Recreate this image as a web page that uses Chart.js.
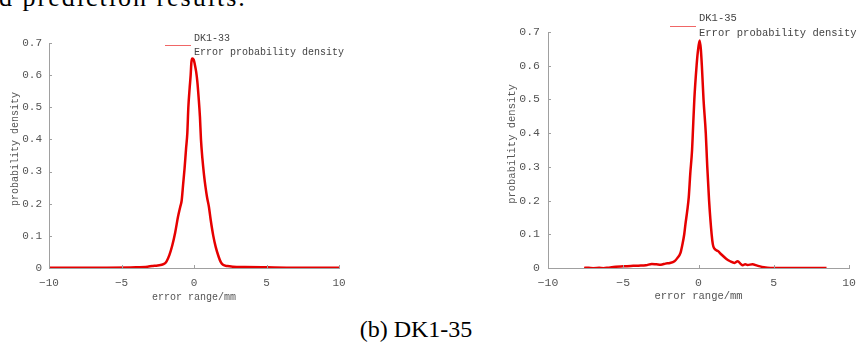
<!DOCTYPE html>
<html>
<head>
<meta charset="utf-8">
<script src="https://cdn.jsdelivr.net/npm/chart.js@4.4.1/dist/chart.umd.min.js"></script>
<style>
  html, body { margin: 0; padding: 0; background: #fff; }
  body { width: 864px; height: 352px; position: relative; overflow: hidden; }
  .box { position: absolute; top: 0; width: 432px; height: 310px; }
  #leftBox { left: 0; }
  #rightBox { left: 432px; }
  .para { position: absolute; left: -1px; top: -15px; font: 26px "Liberation Serif"; line-height: 26px;
          letter-spacing: 2px; color: #000; white-space: nowrap; }
  .caption { position: absolute; left: 0; width: 832px; top: 317px; text-align: center;
             font: 24px "Liberation Serif"; line-height: 24px; color: #000; }
</style>
</head>
<body>
<div class="para">d prediction results.</div>
<div class="box" id="leftBox"><canvas id="chart33" width="432" height="310"></canvas></div>
<div class="box" id="rightBox"><canvas id="chart35" width="432" height="310"></canvas></div>
<div class="caption">(b) DK1-35</div>

<script>
// DK1-33 error distribution
const errX33 = [-10, -8, -6, -4, -3.2, -2.9, -2.5, -2.1, -1.9, -1.7, -1.5, -1.3, -1.1, -0.95, -0.85,
  -0.75, -0.65, -0.55, -0.46, -0.39, -0.3, -0.23, -0.18, -0.12, -0.02, 0.05, 0.15, 0.23, 0.32, 0.41,
  0.48, 0.58, 0.69, 0.8, 0.9, 1.03, 1.15, 1.33, 1.5, 1.7, 1.85, 2.0, 2.3, 2.7, 3.5, 5, 7, 10];
const density33 = [0.001, 0.001, 0.001, 0.002, 0.004, 0.006, 0.008, 0.012, 0.02, 0.04, 0.07, 0.11, 0.16, 0.19, 0.21,
  0.26, 0.31, 0.37, 0.42, 0.5, 0.56, 0.6, 0.64, 0.652, 0.648, 0.635, 0.61, 0.58, 0.53, 0.47,
  0.4, 0.34, 0.29, 0.25, 0.22, 0.19, 0.15, 0.1, 0.065, 0.035, 0.018, 0.01, 0.006, 0.004, 0.003, 0.002, 0.001, 0.001];

// DK1-35 error distribution
const errX35 = [-7.6, -7.3, -7.0, -6.6, -6.3, -6.0, -5.5, -5, -4.5, -4, -3.5, -3.1, -2.8, -2.5, -2.2,
  -1.9, -1.6, -1.4, -1.2, -1.08, -0.95, -0.87, -0.75, -0.65, -0.55, -0.43, -0.38, -0.28, -0.13, -0.05,
  0.07, 0.15, 0.22, 0.33, 0.48, 0.54, 0.58, 0.7, 0.87, 0.95, 1.04, 1.3, 1.52, 1.85, 2.1,
  2.39, 2.6, 2.8, 2.93, 3.1, 3.26, 3.58, 3.9, 4.34, 4.77, 6, 7.5, 8.5];
const density35 = [0, 0.001, -0.001, 0.001, -0.001, 0.001, 0.004, 0.005, 0.006, 0.007, 0.008, 0.012, 0.011, 0.01, 0.013,
  0.015, 0.02, 0.03, 0.045, 0.068, 0.1, 0.13, 0.17, 0.21, 0.28, 0.35, 0.4, 0.5, 0.6, 0.64,
  0.675, 0.65, 0.6, 0.5, 0.4, 0.34, 0.3, 0.2, 0.1, 0.07, 0.058, 0.05, 0.04, 0.027, 0.02,
  0.015, 0.02, 0.012, 0.008, 0.011, 0.009, 0.011, 0.007, 0.002, 0, 0, 0, 0];

const xTicks = [-10, -5, 0, 5, 10];
const yTicks = [0, 0.1, 0.2, 0.3, 0.4, 0.5, 0.6, 0.7];

const axisGray = '#a0a0a0';
const textGray = '#555555';
const lineRed = '#e60000';

// inner tick marks, rotated y title and the little legend
const matlabLook = {
  id: 'matlabLook',
  afterDatasetsDraw(chart, args, opts) {
    const ctx = chart.ctx;
    const xs = chart.scales.x, ys = chart.scales.y;
    ctx.save();
    ctx.strokeStyle = axisGray;
    ctx.lineWidth = 1;
    ctx.beginPath();
    xs.ticks.forEach(t => {
      const px = Math.round(xs.getPixelForValue(t.value)) + 0.5;
      ctx.moveTo(px, ys.bottom);
      ctx.lineTo(px, ys.bottom - 3);
    });
    ys.ticks.forEach(t => {
      const py = Math.round(ys.getPixelForValue(t.value)) + 0.5;
      ctx.moveTo(xs.left, py);
      ctx.lineTo(xs.left + 3, py);
    });
    ctx.stroke();

    ctx.fillStyle = textGray;
    ctx.font = opts.font;
    ctx.textAlign = 'center';
    ctx.textBaseline = 'middle';
    ctx.translate(opts.yTitleX, opts.yTitleY);
    ctx.rotate(-Math.PI / 2);
    ctx.fillText(opts.yTitle, 0, 0);
    ctx.restore();

    const ds = chart.data.datasets[0];
    const lg = opts.legend;
    ctx.save();
    ctx.strokeStyle = ds.borderColor;
    ctx.globalAlpha = 0.6;
    ctx.lineWidth = 1;
    ctx.beginPath();
    ctx.moveTo(lg.x, lg.y + 0.5);
    ctx.lineTo(lg.x + 26, lg.y + 0.5);
    ctx.stroke();
    ctx.globalAlpha = 1;
    ctx.fillStyle = '#444444';
    ctx.font = opts.font;
    ctx.textAlign = 'left';
    ctx.textBaseline = 'middle';
    ctx.fillText(lg.title, lg.x + 29, lg.y - lg.gap);
    ctx.fillText(ds.label, lg.x + 29, lg.y + lg.gap);
    ctx.restore();
  }
};

function buildChart(id, xs, ys, name, o) {
  const points = xs.map((x, i) => ({ x: x, y: ys[i] }));
  const tickFont = { family: 'Liberation Mono', size: o.tickSize };
  const titleFont = { family: 'Liberation Mono', size: o.titleSize };
  return new Chart(document.getElementById(id), {
    type: 'line',
    data: {
      datasets: [{
        label: 'Error probability density',
        data: points,
        borderColor: lineRed,
        borderWidth: 2.5,
        pointRadius: 0,
        cubicInterpolationMode: 'monotone',
        fill: false
      }]
    },
    options: {
      responsive: false,
      animation: false,
      layout: { padding: { left: 0, right: o.padRight, top: o.padTop, bottom: 7 } },
      plugins: {
        legend: { display: false },
        tooltip: { enabled: false },
        matlabLook: {
          font: o.titleSize + 'px "Liberation Mono"',
          yTitle: 'probability density',
          yTitleX: o.yTitleX,
          yTitleY: o.yTitleY,
          legend: { x: o.legendX, y: o.legendY, gap: o.legendGap, title: name }
        }
      },
      scales: {
        x: {
          type: 'linear',
          min: -10,
          max: 10,
          afterBuildTicks: s => { s.ticks = xTicks.map(v => ({ value: v })); },
          afterFit: s => { s.height = 35; },
          ticks: {
            font: tickFont,
            color: textGray,
            padding: 8,
            maxRotation: 0,
            callback: v => String(v).replace('-', '\u2212')
          },
          grid: { display: false, drawTicks: false },
          border: { color: axisGray, width: 1 },
          title: { display: true, text: 'error range/mm', font: titleFont, color: textGray, padding: 0 }
        },
        y: {
          min: 0,
          max: 0.7,
          afterBuildTicks: s => { s.ticks = yTicks.map(v => ({ value: v })); },
          afterFit: s => { s.width = o.yWidth; },
          ticks: {
            font: tickFont,
            color: textGray,
            padding: o.yPad,
            callback: v => (v === 0 ? '0' : v.toFixed(1))
          },
          grid: { display: false, drawTicks: false },
          border: { color: axisGray, width: 1 }
        }
      }
    },
    plugins: [matlabLook]
  });
}

buildChart('chart33', errX33, density33, 'DK1-33', {
  tickSize: 11, titleSize: 10, padTop: 43, padRight: 93, yWidth: 49, yPad: 7,
  yTitleX: 15, yTitleY: 149, legendX: 165, legendY: 45, legendGap: 7
});
buildChart('chart35', errX35, density35, 'DK1-35', {
  tickSize: 11.5, titleSize: 10.5, padTop: 32, padRight: 11, yWidth: 116, yPad: 8,
  yTitleX: 80, yTitleY: 144, legendX: 238, legendY: 26, legendGap: 7.5
});
</script>
</body>
</html>
